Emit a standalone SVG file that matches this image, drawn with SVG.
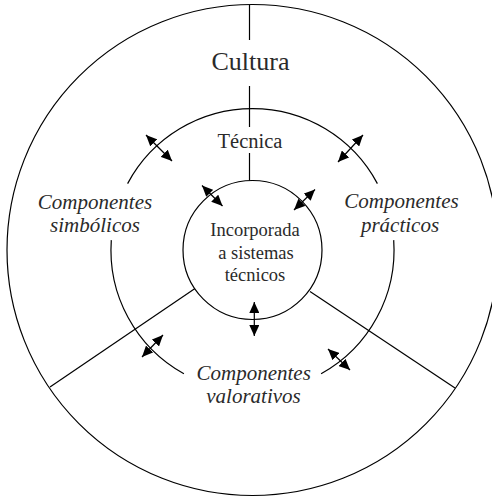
<svg xmlns="http://www.w3.org/2000/svg" width="492" height="498" viewBox="0 0 492 498">
<style>
.ln{fill:none;stroke:#000;stroke-width:1.2}
.ar{fill:none;stroke:#000;stroke-width:1.2;marker-start:url(#ah);marker-end:url(#ah)}
text{fill:#2a2a2a;text-anchor:middle}
.it{font-style:italic;font-size:21px}
</style>
<defs>
<marker id="ah" viewBox="0 0 11 10" refX="11" refY="5" markerWidth="11" markerHeight="10" markerUnits="userSpaceOnUse" orient="auto-start-reverse">
<path d="M0,0 L11,5 L0,10 Z" fill="#000"/>
</marker>
</defs>
<rect width="492" height="498" fill="#fff"/>
<g font-family="Liberation Serif, Times New Roman, serif">
<g id="cultura">
<circle class="ln" cx="252.5" cy="250" r="245.5"/>
<text x="250.5" y="70" font-size="26">Cultura</text>
</g>
<g id="tecnica">
<path class="ln" d="M377.4,183.6 A141.5,141.5 0 0 0 127.6,183.6"/>
<path class="ln" d="M111.3,240.1 A141.5,141.5 0 0 0 183.9,373.8"/>
<path class="ln" d="M321.1,373.8 A141.5,141.5 0 0 0 393.7,240.1"/>
<text x="250" y="148" font-size="20.5">Técnica</text>
</g>
<g id="incorporada">
<circle class="ln" cx="252.5" cy="250" r="69.5"/>
<text x="255" y="236" font-size="18.5">Incorporada</text>
<text x="256" y="259" font-size="18.5">a sistemas</text>
<text x="255" y="281" font-size="18.5">técnicos</text>
</g>
<g id="simbolicos">
<text class="it" x="95" y="209">Componentes</text>
<text class="it" x="95" y="232">simbólicos</text>
</g>
<g id="practicos">
<text class="it" x="401.5" y="208">Componentes</text>
<text class="it" x="400" y="232">prácticos</text>
</g>
<g id="valorativos">
<text class="it" x="253.7" y="380">Componentes</text>
<text class="it" x="253.5" y="403">valorativos</text>
</g>
</g>
<g id="connectors">
<line class="ln" x1="249.5" y1="5" x2="249.5" y2="40"/>
<line class="ln" x1="249.5" y1="86" x2="249.5" y2="127"/>
<line class="ln" x1="249.5" y1="153" x2="249.5" y2="180.5"/>
<line class="ln" x1="195" y1="288.5" x2="50" y2="387"/>
<line class="ln" x1="310" y1="291.5" x2="455" y2="388"/>
<line class="ar" x1="146" y1="135" x2="172" y2="161"/>
<line class="ar" x1="363" y1="135" x2="338" y2="162"/>
<line class="ar" x1="202" y1="185.5" x2="222.5" y2="206"/>
<line class="ar" x1="315" y1="189.5" x2="294" y2="210"/>
<line class="ar" x1="254.3" y1="302" x2="254.3" y2="336"/>
<line class="ar" x1="163" y1="335" x2="142" y2="357"/>
<line class="ar" x1="328" y1="349" x2="350" y2="370"/>
</g>
</svg>
